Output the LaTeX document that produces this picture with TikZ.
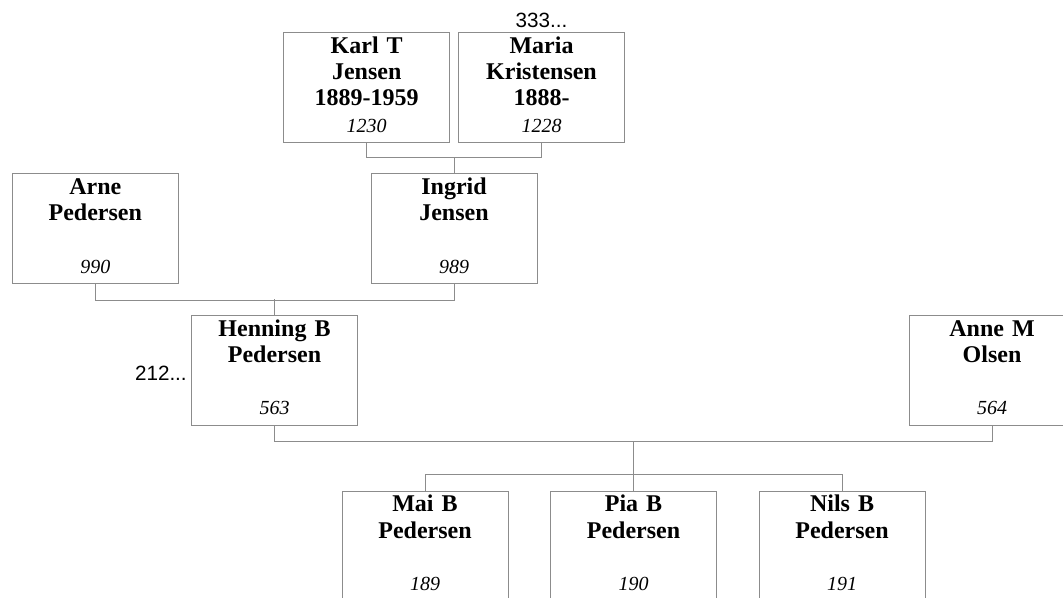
\documentclass[tikz,border=0pt]{standalone}
\usepackage{fontspec}
\setmainfont{Liberation Serif}
\newfontfamily\refsans{Liberation Sans}
\usepackage{tikz}
\usetikzlibrary{positioning}
\definecolor{linegray}{RGB}{140,140,140}

\begin{document}
\begin{tikzpicture}[x=0.75pt,y=-0.75pt]
\tikzstyle{pers}=[draw=linegray,line width=0.75pt,inner sep=0pt,
  minimum width=124.5pt,minimum height=82.5pt,text width=124.5pt,align=center,
  font=\fontsize{18}{19.7}\selectfont\bfseries]
\tikzstyle{conn}=[draw=linegray,line width=0.75pt]
\tikzstyle{more}=[font=\refsans\fontsize{15.5}{18}\selectfont,inner sep=0pt]
\newcommand{\refno}[1]{\strut{\normalfont\itshape\fontsize{15}{19.7}\selectfont #1}}
\useasboundingbox (0,0) rectangle (1063,598);
\clip (0,0) rectangle (1063,598);
% grandparents
\node[pers] (karl) at (366.7,87.5)
{\strut Karl T\\\strut Jensen\\\strut 1889-1959\\\refno{1230}};
\node[pers] (maria) at (541.5,87.5)
{\strut Maria\\\strut Kristensen\\\strut 1888-\\\refno{1228}};
\node[more,anchor=base] (mmore) at (541.5,28) {333...};
% parents
\node[pers] (arne) at (95.3,228.7)
{\strut Arne\\\strut Pedersen\\\strut\\\refno{990}};
\node[pers] (ingrid) at (454,228.7)
{\strut Ingrid\\\strut Jensen\\\strut\\\refno{989}};
\node[pers] (henning) at (274.5,370.2)
{\strut Henning B\\\strut Pedersen\\\strut\\\refno{563}};
\node[more,anchor=base east] (hmore) at (187,380) {212...};
\node[pers] (anne) at (992,370.2)
{\strut Anne M\\\strut Olsen\\\strut\\\refno{564}};
% children
\node[pers] (mai) at (425,546)
{\strut Mai B\\\strut Pedersen\\\strut\\\refno{189}};
\node[pers] (pia) at (633.5,546)
{\strut Pia B\\\strut Pedersen\\\strut\\\refno{190}};
\node[pers] (nils) at (842,546)
{\strut Nils B\\\strut Pedersen\\\strut\\\refno{191}};
% connectors
\draw[conn] (karl.south) -- ++(0,15) -| (maria.south);
\draw[conn] (ingrid.north) -- ++(0,-16.5);
\draw[conn] (arne.south) -- ++(0,16) -| (ingrid.south);
\draw[conn] (henning.north) -- ++(0,-16);
\draw[conn] (henning.south) -- ++(0,16) -| (anne.south);
\draw[conn] (mai.north) -- ++(0,-16) -| (nils.north);
\draw[conn] (pia.north) -- ++(0,-50);
\end{tikzpicture}
\end{document}
